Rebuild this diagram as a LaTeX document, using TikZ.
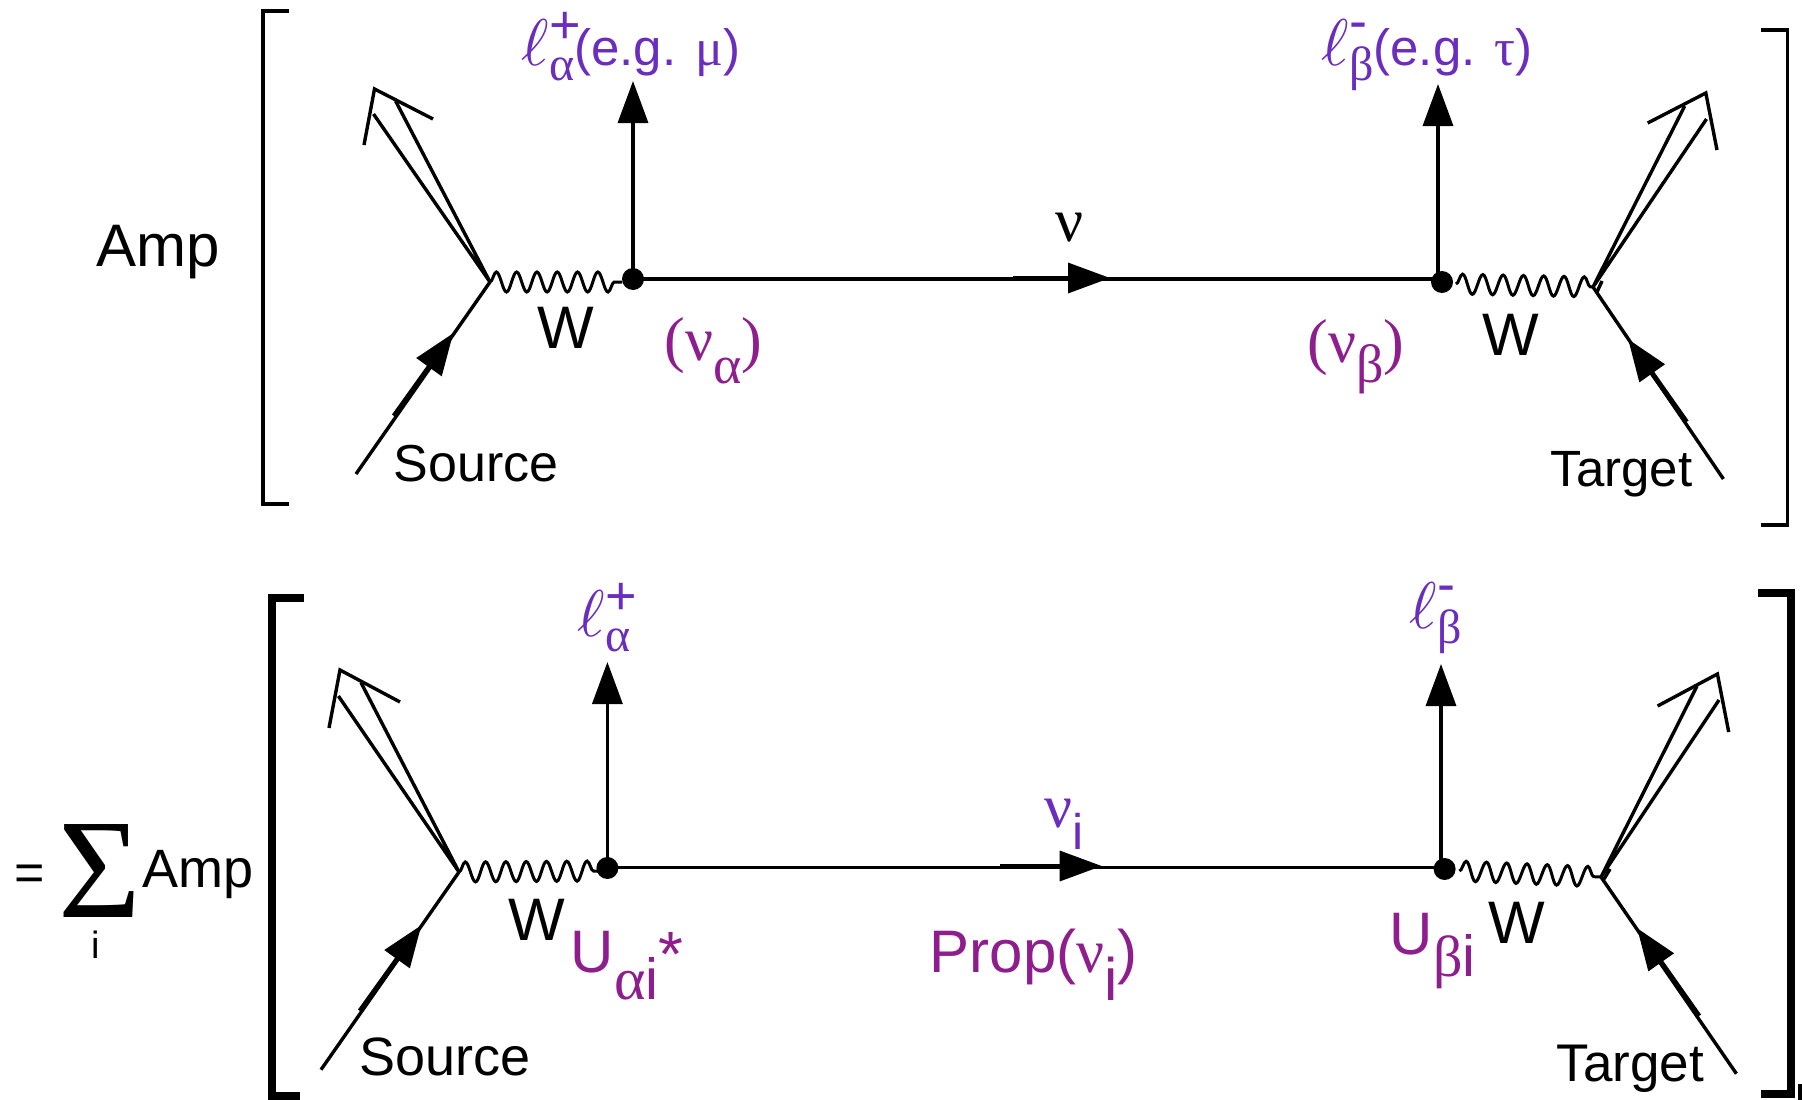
\documentclass[tikz,border=0pt]{standalone}
\usepackage{fontspec}
\setmainfont{Liberation Sans}
\newfontfamily\greekfont{Liberation Serif}
\usetikzlibrary{arrows.meta, decorations.pathmorphing}
\definecolor{leptoncol}{HTML}{6A2DBE}
\definecolor{mixcol}{HTML}{8E1E8E}
\newcommand{\fs}[1]{\fontsize{#1}{#1}\selectfont}
\newcommand{\gr}[1]{{\greekfont\fs{62}#1}}
\newcommand{\grs}[2]{{\greekfont\fs{#1}#2}}
\newcommand{\ellsym}{\scalebox{6.6}{\fs{10}$\ell$}}
\newcommand{\up}[2]{\raisebox{#1pt}{#2}}

\begin{document}
\begin{tikzpicture}[
    x=1pt, y=-1pt,
    line width=3.4pt,
    label/.style={
        anchor=base west,
        inner sep=0pt,
        font=\fs{60}
    },
    small_label/.style={
        label,
        font=\fs{52}
    },
    lepton/.style={
        label,
        text=leptoncol,
        font=\fs{51}
    },
    mixing/.style={
        label,
        text=mixcol
    },
    vertex_dot/.style={
        circle, fill=black, inner sep=0pt, minimum size=22pt
    },
    arrow/.style={
        -{Triangle[length=42pt,width=30pt]}
    },
    fermion/.style={
        arrow, line width=5pt
    },
    wboson/.style={
        decorate,
        decoration={snake, segment length=20.3pt, amplitude=10pt, post length=0pt},
        line width=3pt
    },
    bracket_top/.style={
        line width=3.4pt
    },
    bracket_bottom/.style={
        line width=8pt
    }
]
\useasboundingbox (0,0) rectangle (1802,1100);

% upper row
\coordinate (v1) at (490,282);
\coordinate (v2) at (1593,287);
\coordinate (j1) at (633,279);
\coordinate (j2) at (1438,279);
\node (dot1) [vertex_dot] at (633,279) {};
\node (dot2) [vertex_dot] at (1442,282) {};
\coordinate (w1) at (622,282);
\coordinate (w2) at (1456,284);

\coordinate (out1a) at (373.5,114);
\coordinate (out1b) at (395.6,101);
\coordinate (head1a) at (364,145);
\coordinate (head1b) at (374.5,89);
\coordinate (head1c) at (433,119);
\coordinate (src1) at (356,474);
\coordinate (src1s) at (394,416);
\coordinate (src1t) at (453.4,333);

\coordinate (out2a) at (1706.5,119);
\coordinate (out2b) at (1684.7,106);
\coordinate (head2a) at (1647.7,123);
\coordinate (head2b) at (1705.8,93);
\coordinate (head2c) at (1717,150);
\coordinate (tgt2) at (1723.4,479);
\coordinate (tgt2s) at (1686.5,422);
\coordinate (tgt2t) at (1628,339);
\coordinate (tick2a) at (1602,281);
\coordinate (tick2b) at (1597,292);

\coordinate (lep1) at (633,81);
\coordinate (lep2) at (1438,84);
\coordinate (mid1s) at (1013,278);
\coordinate (mid1t) at (1110,278);

\draw [bracket_top] (289,11) -| (263,504) -- (289,504);
\draw [bracket_top] (1761,30) -| (1787.5,525) -- (1761,525);

\draw (out1a) -- (v1) -- (out1b);
\draw (head1a) -- (head1b) -- (head1c);
\draw (src1) -- (v1);
\draw [fermion] (src1s) -- (src1t);
\draw [wboson] (v1) -- (w1);
\draw (j1) -- (j2);
\draw [arrow] (j1) -- (lep1);
\draw [arrow] (j2) -- (lep2);
\draw [arrow] (mid1s) -- (mid1t);
\draw [wboson] (w2) -- (v2);
\draw (out2a) -- (v2) -- (out2b);
\draw (head2a) -- (head2b) -- (head2c);
\draw (tgt2) -- (v2);
\draw (tick2a) -- (tick2b);
\draw [fermion] (tgt2s) -- (tgt2t);

\node (amp1) [label] at (95,266) {Amp};
\node (w_left1) [label] at (536,348) {W};
\node (w_right1) [label] at (1481,355) {W};
\node (source1) [small_label] at (392,481) {Source};
\node (target1) [small_label, font=\fs{51}] at (1549,486) {Target};
\node (nu1) [label] at (1054,241) {\gr{ν}};
\node (lepa1) [lepton] at (520,65) {\ellsym\rlap{\up{22}{\fs{54}+}}\up{-15}{\grs{48}{α}}(e.g. \grs{52}{μ})};
\node (lepb1) [lepton] at (1320,65) {\ellsym\rlap{\up{26}{\fs{54}-}}\up{-15}{\grs{48}{β}}(e.g. \grs{52}{τ})};
\node (flava) [mixing] at (663,360) {\gr{(ν}\up{-23}{\grs{54}{α}}\gr{)}};
\node (flavb) [mixing] at (1306,362) {\gr{(ν}\up{-20}{\grs{54}{β}}\gr{)}};

% lower row
\coordinate (v3) at (459,872);
\coordinate (v4) at (1601,877);
\coordinate (j3) at (607.4,867.5);
\coordinate (j4) at (1441,867.5);
\node (dot3) [vertex_dot] at (607.4,868) {};
\node (dot4) [vertex_dot] at (1444.6,869) {};
\coordinate (w3) at (598,871);
\coordinate (w4) at (1459.4,871);

\coordinate (out3a) at (338.4,696);
\coordinate (out3b) at (361,682.6);
\coordinate (head3a) at (329,728);
\coordinate (head3b) at (340,670);
\coordinate (head3c) at (400,702);
\coordinate (src3) at (321,1069.7);
\coordinate (src3s) at (360,1011);
\coordinate (src3t) at (421.5,925);

\coordinate (out4a) at (1719,700);
\coordinate (out4b) at (1697,686);
\coordinate (head4a) at (1657.6,706);
\coordinate (head4b) at (1717.4,674);
\coordinate (head4c) at (1728.7,732);
\coordinate (tgt4) at (1736.4,1073.7);
\coordinate (tgt4s) at (1699,1016);
\coordinate (tgt4t) at (1637,928);
\coordinate (tick4a) at (1610,869);
\coordinate (tick4b) at (1604,879);

\coordinate (lep3) at (607.4,662);
\coordinate (lep4) at (1441,664);
\coordinate (mid3s) at (1000,866);
\coordinate (mid3t) at (1101.7,866);
\coordinate (stub_a) at (1800,1084);
\coordinate (stub_b) at (1800,1100);

\draw [bracket_bottom] (304,597.5) -| (272,1096) -- (300,1096);
\draw [bracket_bottom] (1758,593) -| (1790.5,1094) -- (1761,1094);
\draw (stub_a) -- (stub_b);

\draw (out3a) -- (v3) -- (out3b);
\draw (head3a) -- (head3b) -- (head3c);
\draw (src3) -- (v3);
\draw [fermion] (src3s) -- (src3t);
\draw [wboson] (v3) -- (w3);
\draw (j3) -- (j4);
\draw [arrow] (j3) -- (lep3);
\draw [arrow] (j4) -- (lep4);
\draw [arrow] (mid3s) -- (mid3t);
\draw [wboson] (w4) -- (v4);
\draw (out4a) -- (v4) -- (out4b);
\draw (head4a) -- (head4b) -- (head4c);
\draw (tgt4) -- (v4);
\draw (tick4a) -- (tick4b);
\draw [fermion] (tgt4s) -- (tgt4t);

\node (equals) [label, font=\fs{52}] at (13,890) {=};
\node (sigma) [label] at (57,917) {\grs{142}{Σ}};
\node (sumidx) [label, font=\fs{38}] at (90,958) {i};
\node (amp3) [small_label, font=\fs{54}] at (141,887) {Amp};
\node (w_left3) [label] at (507,940) {W};
\node (w_right3) [label] at (1487,943) {W};
\node (source3) [small_label, font=\fs{54}] at (358,1075) {Source};
\node (target3) [small_label, font=\fs{53}] at (1555,1081) {Target};
\node (nu3) [label, text=leptoncol] at (1043,827) {\gr{ν}\up{-22}{\fs{50}i}};
\node (lepa3) [lepton] at (576,636) {\ellsym\rlap{\up{22}{\fs{54}+}}\up{-15}{\grs{48}{α}}};
\node (lepb3) [lepton] at (1408,628) {\ellsym\rlap{\up{26}{\fs{54}-}}\up{-15}{\grs{48}{β}}};
\node (ua) [mixing] at (569,972) {U\up{-27}{\grs{60}{α}\fs{58}i}\rlap{\up{-4}{\fs{64}*}}};
\node (ub) [mixing] at (1388,954) {U\up{-22}{\grs{58}{β}\fs{58}i}};
\node (prop) [mixing] at (928,972) {Prop(\gr{ν}\up{-28}{\fs{60}i})};

\end{tikzpicture}
\end{document}
